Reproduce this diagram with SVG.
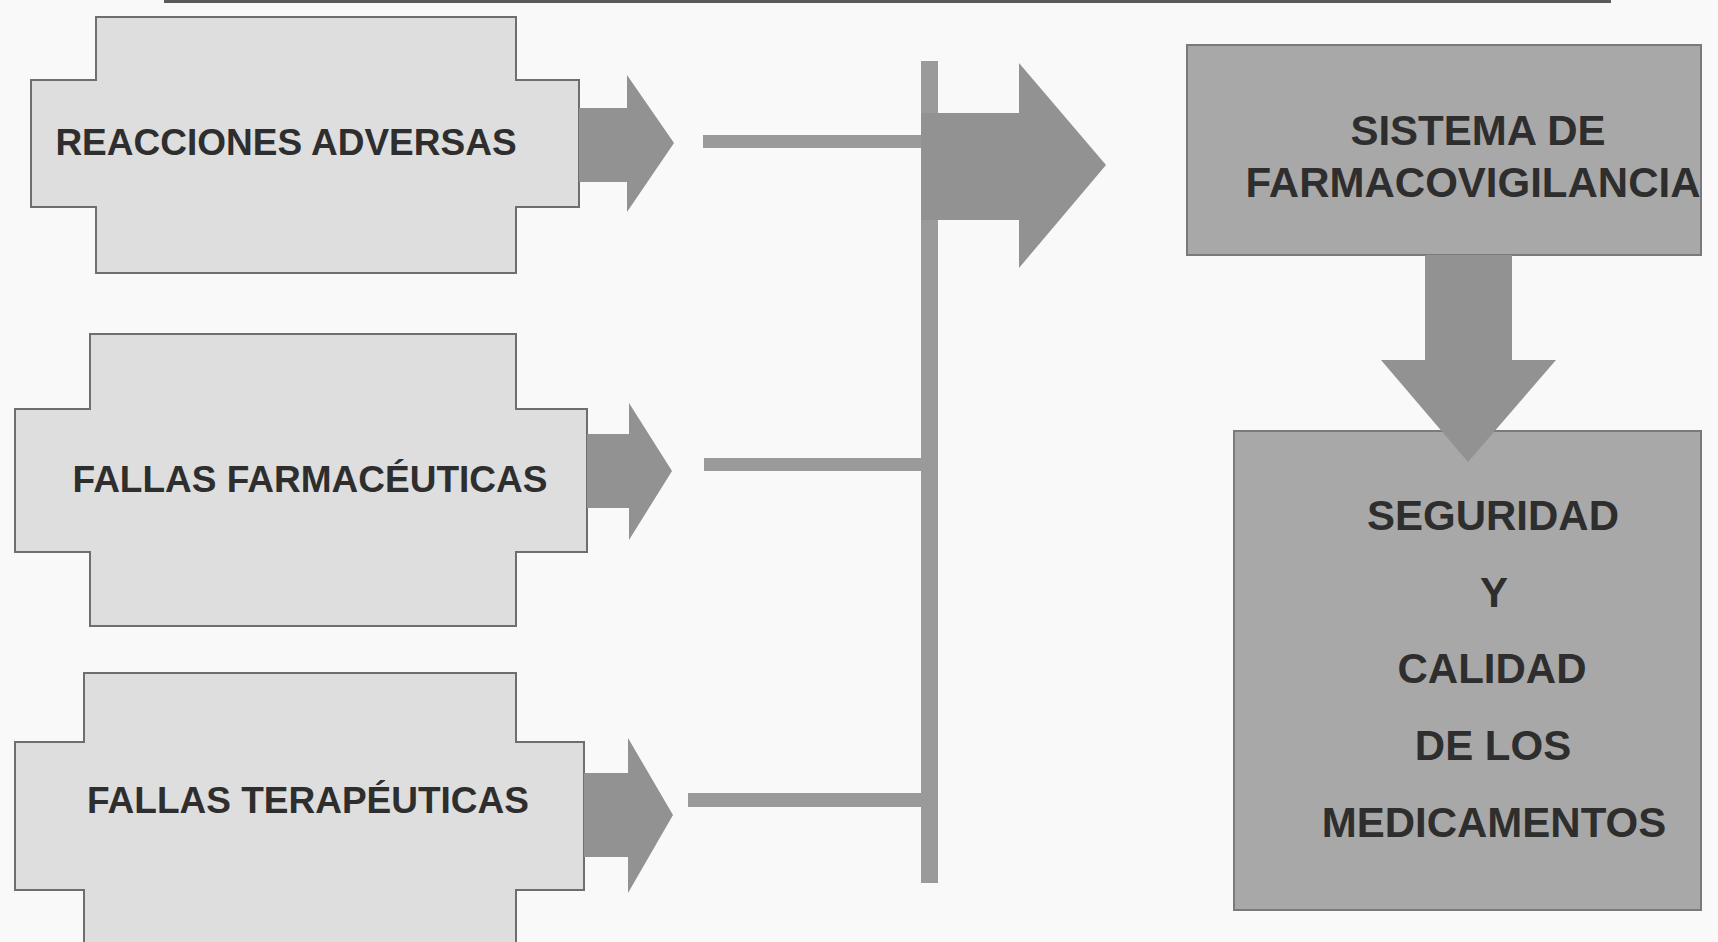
<svg xmlns="http://www.w3.org/2000/svg" width="1718" height="942" viewBox="0 0 1718 942">
<style>
.bg{fill:#f9f9f9}
.src{fill:#dedede;stroke:#6e6e6e;stroke-width:2}
.dst{fill:#a8a8a8;stroke:#7a7a7a;stroke-width:2}
.arr{fill:#929292}
.ln{fill:#9a9a9a}
.t{font-family:"Liberation Sans",Arial,sans-serif;font-weight:bold;fill:#2e2e2e;text-anchor:middle}
.tl{font-size:37px}
.tr{font-size:42px}
</style>
<rect class="bg" x="0" y="0" width="1718" height="942"/>
<rect x="164" y="0" width="1447" height="3" fill="#5a5a5a"/>
<g id="n1">
<polygon class="src" points="96,17 516,17 516,80 579,80 579,207 516,207 516,273 96,273 96,207 31,207 31,80 96,80"/>
<text class="t tl" x="286" y="155">REACCIONES ADVERSAS</text>
</g>
<g id="n2">
<polygon class="src" points="90,334 516,334 516,409 587,409 587,552 516,552 516,626 90,626 90,552 15,552 15,409 90,409"/>
<text class="t tl" x="310" y="492">FALLAS FARMACÉUTICAS</text>
</g>
<g id="n3">
<polygon class="src" points="84,673 516,673 516,742 584,742 584,890 516,890 516,950 84,950 84,890 15,890 15,742 84,742"/>
<text class="t tl" x="308" y="813">FALLAS TERAPÉUTICAS</text>
</g>
<g id="n4">
<rect class="dst" x="1187" y="45" width="514" height="210"/>
<text class="t tr" x="1478" y="145">SISTEMA DE</text>
<text class="t tr" x="1473" y="197">FARMACOVIGILANCIA</text>
</g>
<g id="n5">
<rect class="dst" x="1234" y="431" width="467" height="479"/>
<text class="t tr" x="1493" y="530">SEGURIDAD</text>
<text class="t tr" x="1494" y="607">Y</text>
<text class="t tr" x="1492" y="683">CALIDAD</text>
<text class="t tr" x="1493" y="760">DE LOS</text>
<text class="t tr" x="1494" y="837">MEDICAMENTOS</text>
</g>
<g id="connectors">
<polygon class="arr" points="579,108 627,108 627,75 674,143 627,212 627,182 579,182"/>
<polygon class="arr" points="587,434 629,434 629,403 672,471 629,540 629,508 587,508"/>
<polygon class="arr" points="584,773 628,773 628,738 673,815 628,893 628,857 584,857"/>
<rect class="ln" x="703" y="135" width="218" height="13"/>
<rect class="ln" x="704" y="458" width="217" height="13"/>
<rect class="ln" x="688" y="793" width="234" height="14"/>
<rect class="ln" x="921" y="61" width="17" height="822"/>
<polygon class="arr" points="921,113 1019,113 1019,63 1106,165 1019,268 1019,220 921,220"/>
<polygon class="arr" points="1425,255 1512,255 1512,360 1556,360 1468,462 1381,360 1425,360"/>
</g>
</svg>
